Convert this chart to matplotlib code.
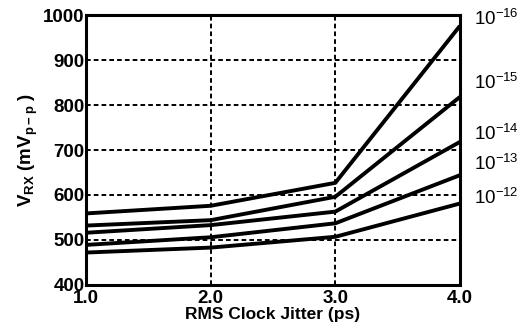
import matplotlib
matplotlib.use("Agg")
import matplotlib.pyplot as plt

plt.rcParams['font.family'] = ['Liberation Sans', 'DejaVu Sans']
plt.rcParams['mathtext.default'] = 'regular'

# RMS clock jitter (ps) and receiver voltage for each BER curve
jitter = [1.0, 2.0, 3.0, 4.0]
v_ber_1e16 = [559, 576, 627, 976]
v_ber_1e15 = [532, 544, 596, 818]
v_ber_1e14 = [516, 533, 563, 718]
v_ber_1e13 = [489, 506, 537, 644]
v_ber_1e12 = [472, 483, 507, 581]
ber_labels = [r'$10^{-16}$', r'$10^{-15}$', r'$10^{-14}$', r'$10^{-13}$', r'$10^{-12}$']
series = [v_ber_1e16, v_ber_1e15, v_ber_1e14, v_ber_1e13, v_ber_1e12]

xticks = [1.0, 2.0, 3.0, 4.0]
xtick_labels = ['1.0', '2.0', '3.0', '4.0']
yticks = [400, 500, 600, 700, 800, 900, 1000]

fig = plt.figure(figsize=(5.22, 3.29), dpi=100)
ax = fig.add_axes([0.165, 0.134, 0.716, 0.820])

for vals in series:
    ax.plot(jitter, vals, color='black', lw=2.8, solid_capstyle='butt', zorder=3)

ax.set_xlim(1.0, 4.0)
ax.set_ylim(400, 1000)
ax.set_xticks(xticks)
ax.set_xticklabels(xtick_labels)
ax.set_yticks(yticks)

ax.grid(True, color='black', lw=1.4, linestyle=(0, (2.4, 1.6)))
ax.tick_params(axis='y', length=0, labelsize=13.5, pad=1)
ax.tick_params(axis='x', length=0, labelsize=13.5, pad=4)
for lab in ax.get_xticklabels() + ax.get_yticklabels():
    lab.set_fontweight('bold')
for s in ax.spines.values():
    s.set_linewidth(2.2)

ax.set_xlabel('RMS Clock Jitter (ps)', fontsize=12.5, fontweight='bold', labelpad=0)
ax.set_ylabel(r'V$_{RX}$ (mV$_{p-p}$ )', fontsize=13.5, fontweight='bold', labelpad=2)

offsets = [5, 10, 6, 8, 4]
for vals, lab, off in zip(series, ber_labels, offsets):
    ax.annotate(lab, xy=(jitter[-1], vals[-1]), xytext=(10, off),
                textcoords='offset points', ha='left', va='center',
                fontsize=13.5, annotation_clip=False)

fig.savefig('out.png', dpi=100)
